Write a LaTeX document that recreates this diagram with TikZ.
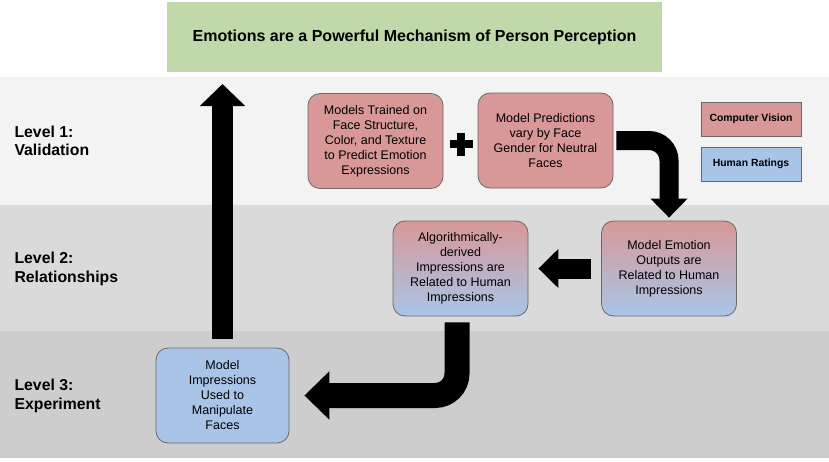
\documentclass[tikz,border=0pt]{standalone}
\usepackage{fontspec}
\setmainfont{Liberation Sans}
\usetikzlibrary{arrows.meta}

\definecolor{cvred}{RGB}{216,152,152}
\definecolor{hrblue}{RGB}{168,197,232}
\definecolor{titlegreen}{RGB}{192,216,170}
\definecolor{bandone}{RGB}{243,243,243}
\definecolor{bandtwo}{RGB}{218,218,218}
\definecolor{bandthree}{RGB}{205,205,205}
\definecolor{boxline}{RGB}{105,105,105}

\tikzset{
  box/.style={draw=boxline, line width=0.8pt, rounded corners=12pt,
    minimum width=135pt, minimum height=95pt, align=center,
    font=\fontsize{12.5}{15}\selectfont},
  keybox/.style={draw=boxline, line width=0.8pt, minimum width=100pt,
    minimum height=34pt, font=\fontsize{10.4}{12}\selectfont\bfseries},
  level/.style={anchor=west, align=left, font=\fontsize{15.8}{18.5}\selectfont\bfseries},
  bigarrow/.style n args={3}{draw=black, line width=#1,
    -{Triangle[width=#2, length=#3]}}
}

\begin{document}
\begin{tikzpicture}[x=1pt,y=-1pt]

  \useasboundingbox (0,0) rectangle (829,461);

  \fill[bandone]   (0,77)  rectangle (829,205);
  \fill[bandtwo]   (0,205) rectangle (829,331);
  \fill[bandthree] (0,331) rectangle (829,458);

  \node[fill=titlegreen, minimum width=495pt, minimum height=70pt,
        font=\fontsize{16}{18}\selectfont\bfseries] (title) at (414.5,37)
        {Emotions are a Powerful Mechanism of Person Perception};

  \node[level] (lvlone)   at (11,141) {Level 1:\\Validation};
  \node[level] (lvltwo)   at (11,269) {Level 2:\\Relationships};
  \node[level] (lvlthree) at (11,396) {Level 3:\\Experiment};

  \begin{scope}[every node/.style={box, fill=cvred}]
    \node (train) at (375.5,141) {Models Trained on\\Face Structure,\\Color, and Texture\\to Predict Emotion\\Expressions};
    \node (pred)  at (545.5,140.5) {Model Predictions\\vary by Face\\Gender for Neutral\\Faces};
  \end{scope}

  \begin{scope}[every node/.style={box, top color=cvred, bottom color=hrblue}]
    \node (algo) at (460.5,268.5) {Algorithmically-\\derived\\Impressions are\\Related to Human\\Impressions};
    \node (emo)  at (669,268.5) {Model Emotion\\Outputs are\\Related to Human\\Impressions};
  \end{scope}

  \node[box, fill=hrblue, minimum width=133pt] (impr) at (222.5,395.5)
    {Model\\Impressions\\Used to\\Manipulate\\Faces};

  \node[keybox, fill=cvred]  (keycv) at (751,119) {Computer Vision};
  \node[keybox, fill=hrblue] (keyhr) at (751,164) {Human Ratings};

  \coordinate (plus) at (461,144);
  \draw[line width=7.5pt] ([xshift=-11.5pt]plus) -- ([xshift=11.5pt]plus);
  \draw[line width=7.5pt] ([yshift=-11.5pt]plus) -- ([yshift=11.5pt]plus);

  \coordinate (goal) at (222.5,84);

  \draw[bigarrow={21pt}{44pt}{22pt}, shorten <=9pt] (impr.north) -- (goal);
  \draw[bigarrow={19pt}{36pt}{19pt}, rounded corners=20pt,
        shorten <=3pt, shorten >=3pt] (pred.east) -| (emo.north);
  \draw[bigarrow={20pt}{38pt}{20pt}, shorten <=10pt, shorten >=10pt]
        (emo.west) -- (algo.east);
  \draw[bigarrow={25pt}{47pt}{25pt}, rounded corners=22pt,
        shorten <=6pt, shorten >=15pt] ([xshift=-3.5pt]algo.south) |- (impr.east);

\end{tikzpicture}
\end{document}
